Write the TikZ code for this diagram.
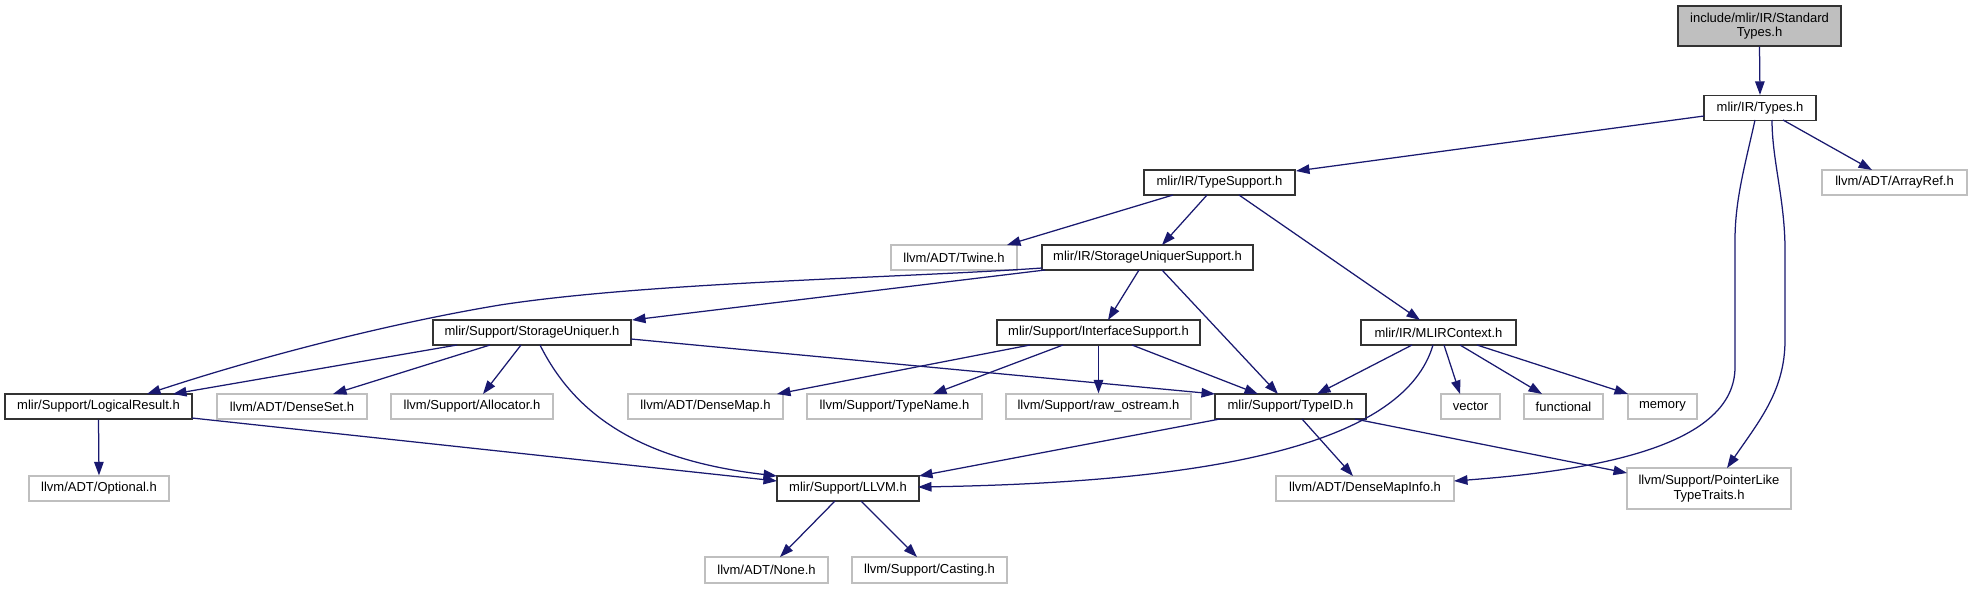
\documentclass[tikz,border=0pt]{standalone}
\usepackage{fontspec}
\setmainfont{Liberation Sans}
\usetikzlibrary{arrows.meta}
\definecolor{edgecol}{HTML}{191970}
\definecolor{extcol}{HTML}{BFBFBF}
\definecolor{intcol}{HTML}{333333}
\tikzset{
  base/.style={rectangle, inner sep=0pt, minimum height=25pt, align=center,
    line width=1.2pt, font=\fontsize{13}{14.5}\selectfont},
  intn/.style={base, draw=intcol, fill=white},
  extn/.style={base, draw=extcol, fill=white},
  mainn/.style={base, draw=intcol, fill=extcol},
  dep/.style={draw=edgecol, line width=1.25pt, -{Triangle[length=13.5pt,width=9.5pt]}}
}
\begin{document}
\begin{tikzpicture}[x=1pt,y=-1pt]
\fill[white] (0,0) rectangle (1972,589);
\useasboundingbox (0,0) rectangle (1972,589);
% nodes
\node[mainn, minimum width=163pt, minimum height=40pt] (std) at (1759.5,26) {include/mlir/IR/Standard\\Types.h};
\node[intn, minimum width=112pt] (types) at (1760,108) {mlir/IR/Types.h};
\node[intn, minimum width=151pt] (tsup) at (1219.5,182.5) {mlir/IR/TypeSupport.h};
\node[extn, minimum width=145pt] (aref) at (1894.5,182.5) {llvm/ADT/ArrayRef.h};
\node[extn, minimum width=126pt] (twine) at (954,257.5) {llvm/ADT/Twine.h};
\node[intn, minimum width=211pt] (sus) at (1147.5,257.5) {mlir/IR/StorageUniquerSupport.h};
\node[intn, minimum width=198pt] (su) at (532,332.5) {mlir/Support/StorageUniquer.h};
\node[intn, minimum width=203pt] (is) at (1098.5,332.5) {mlir/Support/InterfaceSupport.h};
\node[intn, minimum width=155pt] (ctx) at (1438.5,332.5) {mlir/IR/MLIRContext.h};
\node[intn, minimum width=187pt] (lr) at (98.5,406.5) {mlir/Support/LogicalResult.h};
\node[extn, minimum width=150pt] (dset) at (292,406.5) {llvm/ADT/DenseSet.h};
\node[extn, minimum width=162pt] (alloc) at (472,406.5) {llvm/Support/Allocator.h};
\node[extn, minimum width=155pt] (dmap) at (705.5,406.5) {llvm/ADT/DenseMap.h};
\node[extn, minimum width=175pt] (tname) at (894.5,406.5) {llvm/Support/TypeName.h};
\node[extn, minimum width=185pt] (raw) at (1098.5,406.5) {llvm/Support/raw\_ostream.h};
\node[intn, minimum width=151pt] (tid) at (1290.5,406.5) {mlir/Support/TypeID.h};
\node[extn, minimum width=59pt] (vec) at (1470.5,406.5) {vector};
\node[extn, minimum width=79pt] (func) at (1563.5,406.5) {functional};
\node[extn, minimum width=69pt] (mem) at (1662.5,406.5) {memory};
\node[extn, minimum width=140pt] (opt) at (99,488.5) {llvm/ADT/Optional.h};
\node[intn, minimum width=142pt] (llvm) at (848,488.5) {mlir/Support/LLVM.h};
\node[extn, minimum width=178pt] (dmi) at (1365,488.5) {llvm/ADT/DenseMapInfo.h};
\node[extn, minimum width=164pt, minimum height=41pt] (plt) at (1709,488.5) {llvm/Support/PointerLike\\TypeTraits.h};
\node[extn, minimum width=123pt, minimum height=26pt] (none) at (766.5,570) {llvm/ADT/None.h};
\node[extn, minimum width=155pt, minimum height=26pt] (cast) at (929.5,570) {llvm/Support/Casting.h};
% edges
\draw[dep] (std.south) -- (types.north);
\draw[dep] ([shift={(-56,8)}]types.center) -- ([shift={(76.5,-11.5)}]tsup.center);
\draw[dep] ([shift={(23,12)}]types.center) -- ([shift={(-22.5,-12.5)}]aref.center);
\draw[dep] ([shift={(-5,12)}]types.center) .. controls (1745,165) and (1735,200) .. (1735,240) -- (1735,367) .. controls (1735,445) and (1600,470) .. ([shift={(89,-7.5)}]dmi.center);
\draw[dep] ([shift={(12,12)}]types.center) .. controls (1772,160) and (1785,200) .. (1785,250) -- (1785,340) .. controls (1785,390) and (1760,420) .. ([shift={(18,-20.5)}]plt.center);
\draw[dep] ([shift={(-46.5,12.5)}]tsup.center) -- ([shift={(53,-12.5)}]twine.center);
\draw[dep] ([shift={(-12.5,12.5)}]tsup.center) -- ([shift={(14.5,-12.5)}]sus.center);
\draw[dep] ([shift={(19.5,12.5)}]tsup.center) -- ([shift={(-18.5,-12.5)}]ctx.center);
\draw[dep] ([shift={(-105.5,10.5)}]sus.center) .. controls (900,278) and (650,282) .. (500,305) .. controls (380,325) and (250,360) .. ([shift={(48.5,-12.5)}]lr.center);
\draw[dep] ([shift={(-102.5,12.5)}]sus.center) -- ([shift={(100,-12.5)}]su.center);
\draw[dep] ([shift={(-8.5,12.5)}]sus.center) -- ([shift={(9.5,-12.5)}]is.center);
\draw[dep] ([shift={(14.5,12.5)}]sus.center) -- ([shift={(-12.5,-12.5)}]tid.center);
\draw[dep] ([shift={(-75,12.5)}]su.center) -- ([shift={(74.5,-12.5)}]lr.center);
\draw[dep] ([shift={(-42,12.5)}]su.center) -- ([shift={(41,-12.5)}]dset.center);
\draw[dep] ([shift={(-11,12.5)}]su.center) -- ([shift={(11,-12.5)}]alloc.center);
\draw[dep] ([shift={(8,12.5)}]su.center) .. controls (575,415) and (640,460) .. ([shift={(-71,-12.5)}]llvm.center);
\draw[dep] ([shift={(99,6.5)}]su.center) -- ([shift={(-75.5,-12.5)}]tid.center);
\draw[dep] ([shift={(-68.5,12.5)}]is.center) -- ([shift={(71.5,-12.5)}]dmap.center);
\draw[dep] ([shift={(-35.5,12.5)}]is.center) -- ([shift={(38.5,-12.5)}]tname.center);
\draw[dep] (is.south) -- (raw.north);
\draw[dep] ([shift={(33.5,12.5)}]is.center) -- ([shift={(-32.5,-12.5)}]tid.center);
\draw[dep] ([shift={(-26.5,12.5)}]ctx.center) -- ([shift={(26.5,-12.5)}]tid.center);
\draw[dep] ([shift={(-5.5,12.5)}]ctx.center) .. controls (1405,440) and (1230,482) .. ([shift={(70,-1.5)}]llvm.center);
\draw[dep] ([shift={(5.5,12.5)}]ctx.center) -- ([shift={(-10.5,-12.5)}]vec.center);
\draw[dep] ([shift={(21.5,12.5)}]ctx.center) -- ([shift={(-21.5,-12.5)}]func.center);
\draw[dep] ([shift={(38.5,12.5)}]ctx.center) -- ([shift={(-34.5,-12.5)}]mem.center);
\draw[dep] (lr.south) -- (opt.north);
\draw[dep] ([shift={(93.5,11.5)}]lr.center) -- ([shift={(-71,-7.5)}]llvm.center);
\draw[dep] ([shift={(-70.5,12.5)}]tid.center) -- ([shift={(71,-12.5)}]llvm.center);
\draw[dep] ([shift={(11.5,12.5)}]tid.center) -- ([shift={(-12,-12.5)}]dmi.center);
\draw[dep] ([shift={(64.5,12.5)}]tid.center) -- ([shift={(-82,-15.5)}]plt.center);
\draw[dep] ([shift={(-13,12.5)}]llvm.center) -- ([shift={(13.5,-13)}]none.center);
\draw[dep] ([shift={(13,12.5)}]llvm.center) -- ([shift={(-12.5,-13)}]cast.center);
\end{tikzpicture}
\end{document}
